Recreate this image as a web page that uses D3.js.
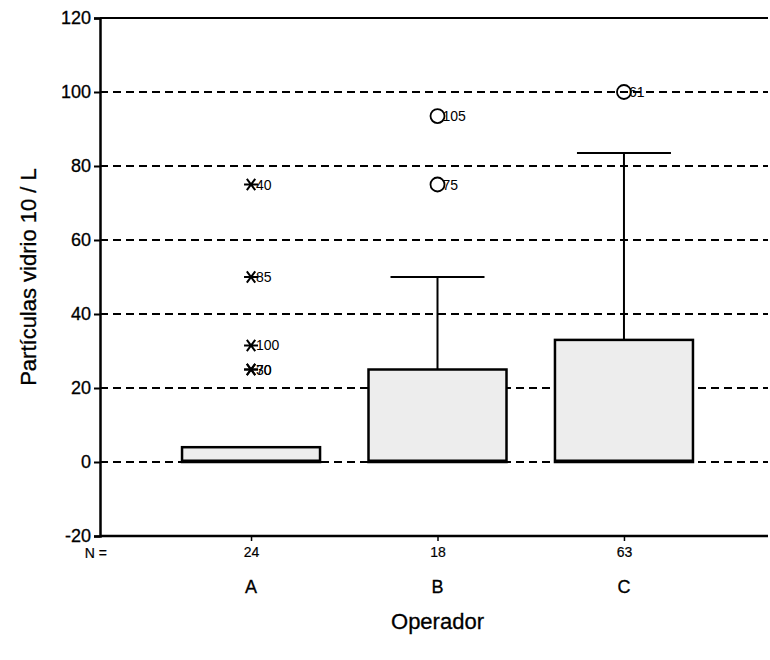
<!DOCTYPE html>
<html>
<head>
<meta charset="utf-8">
<script src="https://cdn.jsdelivr.net/npm/d3@7"></script>
<style>
  body { margin: 0; background: #fff; }
  text { font-family: "Liberation Sans", Arial, sans-serif; fill: #000; }
</style>
</head>
<body>
<script>
// datos del boxplot
var categories = ["A", "B", "C"]
var counts = [24, 18, 63]
var q1 = [0, 0, 0]
var median = [0.3, 0.3, 0.3]
var q3 = [4, 25, 33]
var whiskerLow = [0, 0, 0]
var whiskerHigh = [4, 50, 83.5]
// atipicos: categoria, valor, etiqueta, tipo (circulo / extremo)
var outCat = ["A", "A", "A", "A", "A", "B", "B", "C"]
var outVal = [75, 50, 31.5, 25, 25, 93.5, 75, 100]
var outLabel = ["40", "85", "100", "30", "70", "105", "75", "61"]
var outType = ["star", "star", "star", "star", "star", "circle", "circle", "circle"]
var yTicks = [-20, 0, 20, 40, 60, 80, 100, 120]

var width = 770, height = 660
var svg = d3.select("body").append("svg")
  .attr("width", width)
  .attr("height", height)

var mLeft = 100, mRight = 775, mTop = 18, mBottom = 536

var x = d3.scalePoint().domain(categories).range([mLeft, mRight]).padding(0.81)
var y = d3.scaleLinear().domain([-20, 120]).range([mBottom, mTop])

// lineas de cuadricula discontinuas
svg.append("g").selectAll("line")
  .data(yTicks.filter(d => d > -20 && d < 120))
  .enter().append("line")
  .attr("x1", mLeft).attr("x2", 768)
  .attr("y1", d => y(d)).attr("y2", d => y(d))
  .attr("stroke", "#000")
  .attr("stroke-width", 2.2)
  .attr("stroke-dasharray", "8,5")

// marco superior
svg.append("line").attr("x1", mLeft).attr("x2", 768).attr("y1", y(120)).attr("y2", y(120))
  .attr("stroke", "#000").attr("stroke-width", 2.2)

// eje y
var yAxis = d3.axisLeft(y).tickValues(yTicks).tickSize(6).tickPadding(3).tickFormat(d => String(d))
var gy = svg.append("g").attr("transform", `translate(${mLeft},0)`).call(yAxis)
gy.select(".domain").attr("stroke-width", 2.5)
gy.selectAll(".tick line").attr("stroke-width", 2)
gy.selectAll("text").style("font-size", "18px").style("font-family", "Liberation Sans, Arial, sans-serif")
  .attr("stroke", "#000").attr("stroke-width", 0.3)

// eje x
var xAxis = d3.axisBottom(x).tickSize(5).tickFormat((d, i) => counts[i]).tickPadding(6)
var gx = svg.append("g").attr("transform", `translate(0,${mBottom})`).call(xAxis)
gx.select(".domain").attr("d", `M${mLeft},0H768`).attr("stroke-width", 2.5)
gx.selectAll(".tick line").attr("stroke-width", 1.5)
gx.selectAll("text").style("font-size", "14px").style("font-family", "Liberation Sans Narrow, Arial, sans-serif")
  .attr("stroke", "#000").attr("stroke-width", 0.2)

svg.append("text").attr("x", 107).attr("y", mBottom + 22)
  .attr("text-anchor", "end")
  .style("font-size", "14px").style("font-family", "Liberation Sans Narrow, Arial, sans-serif")
  .attr("stroke", "#000").attr("stroke-width", 0.2)
  .text("N =")

// etiquetas de categoria
svg.append("g").selectAll("text")
  .data(categories)
  .enter().append("text")
  .attr("x", d => x(d)).attr("y", 593)
  .attr("text-anchor", "middle")
  .style("font-size", "18px")
  .attr("stroke", "#000").attr("stroke-width", 0.3)
  .text(d => d)

// titulos
svg.append("text").attr("x", x("B")).attr("y", 629)
  .attr("text-anchor", "middle").style("font-size", "22px")
  .attr("stroke", "#000").attr("stroke-width", 0.3)
  .text("Operador")
svg.append("text")
  .attr("transform", `translate(36,${(mTop + mBottom) / 2}) rotate(-90)`)
  .attr("text-anchor", "middle").style("font-size", "22px")
  .attr("stroke", "#000").attr("stroke-width", 0.3)
  .text("Partículas vidrio 10 / L")

// cajas
var boxW = 138, capW = 94
var boxes = svg.append("g")
categories.forEach(function(c, i) {
  var cx = x(c)
  // bigote superior
  if (whiskerHigh[i] > q3[i]) {
    boxes.append("line").attr("x1", cx).attr("x2", cx)
      .attr("y1", y(q3[i])).attr("y2", y(whiskerHigh[i]))
      .attr("stroke", "#000").attr("stroke-width", 2)
    boxes.append("line").attr("x1", cx - capW / 2).attr("x2", cx + capW / 2)
      .attr("y1", y(whiskerHigh[i])).attr("y2", y(whiskerHigh[i]))
      .attr("stroke", "#000").attr("stroke-width", 2)
  }
  boxes.append("rect")
    .attr("x", cx - boxW / 2).attr("width", boxW)
    .attr("y", y(q3[i])).attr("height", y(q1[i]) - y(q3[i]))
    .attr("fill", "#ededed").attr("stroke", "#000").attr("stroke-width", 2.5)
  boxes.append("line").attr("x1", cx - boxW / 2).attr("x2", cx + boxW / 2)
    .attr("y1", y(median[i])).attr("y2", y(median[i]))
    .attr("stroke", "#000").attr("stroke-width", 3)
})

// atipicos
var outG = svg.append("g")
outVal.forEach(function(v, i) {
  var cx = x(outCat[i]), cy = y(v)
  if (outType[i] == "circle") {
    outG.append("circle").attr("cx", cx).attr("cy", cy).attr("r", 7)
      .attr("fill", "none").attr("stroke", "#000").attr("stroke-width", 1.8)
  } else {
    // asterisco: tres trazos
    var s = 7
    outG.append("path")
      .attr("d", `M${cx - s},${cy}H${cx + s}M${cx - s * 0.6},${cy - s * 0.8}L${cx + s * 0.6},${cy + s * 0.8}M${cx - s * 0.6},${cy + s * 0.8}L${cx + s * 0.6},${cy - s * 0.8}`)
      .attr("stroke", "#000").attr("stroke-width", 2).attr("fill", "none")
  }
  outG.append("text").attr("x", cx + 5).attr("y", cy + 5)
    .style("font-size", "14px")
    .text(outLabel[i])
})
</script>
</body>
</html>
